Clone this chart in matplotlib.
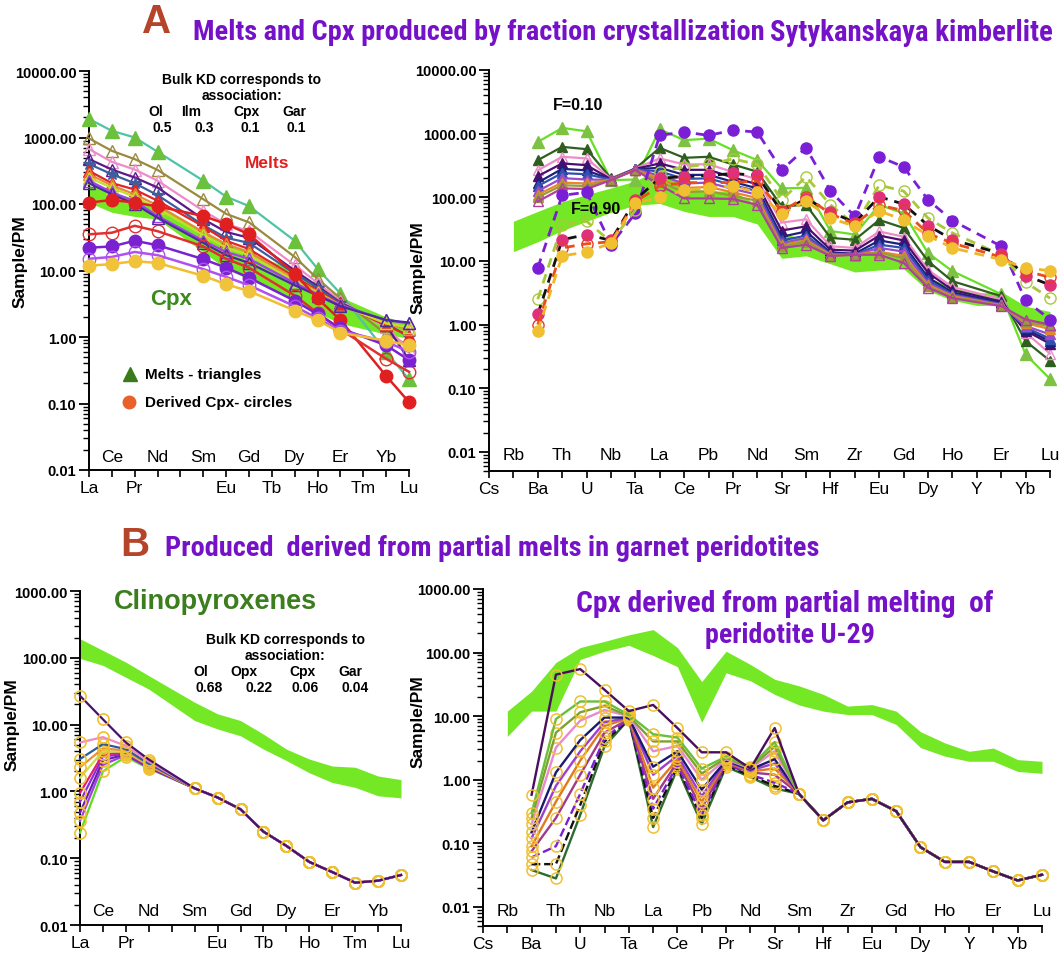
import numpy as np
import matplotlib
matplotlib.use('Agg')
import matplotlib.pyplot as plt
import matplotlib.transforms as mtransforms
from matplotlib import font_manager as fm
from matplotlib.lines import Line2D

W, H = 1062, 954
SANS = ['Liberation Sans', 'DejaVu Sans']
plt.rcParams['font.family'] = SANS

LIME = '#74E824'
TITLE_PURPLE = '#7512C8'
BROWN = '#B4442A'

# element orders
ree_all = ['La', 'Ce', 'Pr', 'Nd', 'Pm', 'Sm', 'Eu', 'Gd', 'Tb', 'Dy', 'Ho', 'Er', 'Tm', 'Yb', 'Lu']
ree_low = ['La', 'Pr', 'Eu', 'Tb', 'Ho', 'Tm', 'Lu']
ree_up = ['Ce', 'Nd', 'Sm', 'Gd', 'Dy', 'Er', 'Yb']
spider = ['Cs', 'Rb', 'Ba', 'Th', 'U', 'Nb', 'Ta', 'La', 'Ce', 'Pb', 'Pr', 'Nd',
          'Sr', 'Sm', 'Hf', 'Zr', 'Eu', 'Gd', 'Dy', 'Ho', 'Y', 'Er', 'Yb', 'Lu']
spider_low = ['Cs', 'Ba', 'U', 'Ta', 'Ce', 'Pr', 'Sr', 'Hf', 'Eu', 'Dy', 'Y', 'Yb']
spider_up = ['Rb', 'Th', 'Nb', 'La', 'Pb', 'Nd', 'Sm', 'Zr', 'Gd', 'Ho', 'Er', 'Lu']

# ---------------- A, left: REE of melts and cpx ----------------
ree_a = ['La', 'Ce', 'Pr', 'Nd', 'Sm', 'Eu', 'Gd', 'Dy', 'Ho', 'Er', 'Yb', 'Lu']
melt_a1 = [1900, 1260, 1000, 610, 224, 129, 93, 28, 10.6, 4.5, 0.6, 0.23]
melt_a2 = [970, 630, 473, 325, 118, 71, 53, 16, 7.5, 3.8, 1.1, 0.75]
melt_a3 = [670, 430, 330, 224, 79, 50, 39, 12, 6.5, 3.5, 1.4, 0.65]
melt_a4 = [473, 330, 250, 177, 59, 38, 31, 10, 5.8, 3.3, 1.5, 0.45]
melt_a5 = [400, 280, 205, 136, 48, 31, 26, 9, 5.5, 3.2, 1.6, 1.0]
melt_a6 = [315, 206, 165, 112, 46, 28, 21, 8, 5.0, 3.1, 1.5, 1.05]
melt_a7 = [280, 190, 140, 95, 38, 25, 19, 7.5, 4.8, 3.0, 1.6, 1.3]
melt_a8 = [250, 175, 128, 86, 34, 22, 17, 7, 4.6, 3.0, 1.6, 1.4]
melt_a9 = [224, 150, 110, 66, 28, 19, 15, 6.5, 4.4, 3.0, 1.8, 1.6]
melt_a10 = [205, 140, 100, 62, 26, 17, 13, 6, 4.2, 2.9, 1.8, 1.65]
cpx_a1 = [105, 115, 105, 92, 66, 50, 35, 9, 3.8, 1.8, 0.26, 0.105]
cpx_a2 = [35, 37, 47, 39, 23, 15, 11, 4.2, 2.3, 1.3, 0.47, 0.3]
cpx_a3 = [22, 23, 28, 24, 14.8, 11, 7.8, 3.5, 2.2, 1.35, 0.75, 0.45]
cpx_a4 = [15, 16, 19, 17, 10.5, 8, 6, 2.9, 1.9, 1.25, 0.85, 0.6]
cpx_a5 = [11.8, 12.5, 13.8, 13, 8.3, 6.2, 4.9, 2.5, 1.8, 1.16, 0.88, 0.75]
band_a_hi = [190, 150, 120, 93, 38, 26, 19, 10, 6, 4, 2.0, 1.6]
band_a_lo = [105, 75, 65, 59, 19, 10.5, 7.4, 3.5, 2.3, 1.6, 1.1, 0.95]

# ---------------- A, right: spider diagram ----------------
spd_a = ['Ba', 'Th', 'U', 'Nb', 'Ta', 'La', 'Ce', 'Pb', 'Pr', 'Nd', 'Sr', 'Sm',
         'Hf', 'Zr', 'Eu', 'Gd', 'Dy', 'Ho', 'Er', 'Yb', 'Lu']
melt_s1 = [740, 1230, 1090, 186, 190, 1170, 790, 835, 550, 383, 138, 141, 29.5, 26, 76, 56, 13.3, 6.9, 3.0, 0.34, 0.14]
melt_s2 = [383, 620, 570, 198, 283, 597, 417, 433, 328, 252, 72, 76, 23, 21.5, 44, 33, 9.9, 4.8, 2.8, 0.55, 0.27]
melt_s3 = [265, 433, 408, 195, 283, 408, 328, 330, 250, 190, 40, 45, 17, 16, 29, 24, 7.2, 3.9, 2.5, 0.75, 0.35]
melt_s4 = [215, 340, 320, 192, 280, 340, 270, 270, 205, 160, 30, 35, 15, 14.5, 25, 21, 6.5, 3.5, 2.3, 0.8, 0.5]
melt_s5 = [170, 280, 265, 190, 278, 290, 225, 225, 175, 138, 24, 29, 13.5, 13, 21, 18, 5.5, 3.2, 2.2, 0.85, 0.55]
melt_s6 = [150, 240, 230, 190, 276, 255, 195, 198, 155, 125, 21, 25, 13, 12.5, 18, 16, 5.0, 3.0, 2.1, 0.9, 0.6]
melt_s7 = [125, 200, 190, 188, 274, 220, 165, 170, 135, 110, 19, 23, 12.5, 12.5, 16, 14, 4.5, 2.9, 2.05, 0.95, 0.7]
melt_s8 = [110, 170, 165, 188, 272, 195, 140, 145, 120, 97, 17.5, 21, 12.5, 12.5, 14, 12, 4.2, 2.8, 2.0, 1.05, 0.85]
melt_s9 = [100, 155, 150, 187, 270, 175, 120, 125, 105, 88, 17, 20, 12, 12.5, 13.5, 11, 4.0, 2.7, 2.0, 1.1, 0.95]
melt_s10 = [86, 138, 135, 186, 268, 155, 96, 96, 94, 76, 16, 18, 12, 12.5, 12.5, 9.3, 3.8, 2.6, 1.95, 1.2, 1.0]
cpx_s1 = [7.8, 107, 120, 18, 56, 940, 1060, 940, 1130, 1060, 268, 600, 125, 50, 433, 300, 91, 43, 17, 2.4, 1.2]
cpx_s2 = [2.5, 37, 42, 20, 63, 250, 300, 330, 400, 330, 91, 210, 76, 37, 155, 125, 47, 27.5, 12.5, 4.6, 2.6]
cpx_s3 = [1.45, 21.5, 26, 21, 91, 200, 210, 220, 237, 220, 59, 95, 59, 40, 102, 78, 36, 21.5, 13, 5.9, 4.2]
cpx_s4 = [1.0, 16, 18.6, 20, 85, 150, 170, 170, 170, 180, 60, 102, 55, 38, 75, 62, 27, 19, 11.5, 7.0, 5.5]
cpx_s5 = [0.8, 12, 13.8, 19, 80, 100, 130, 140, 150, 120, 55, 87, 47, 35, 61, 44, 25, 16, 10.5, 7.8, 7.0]
band_s = spider[1:]
band_s_hi = [42, 60, 85, 110, 140, 180, 280, 140, 125, 126, 76, 27, 22, 15, 13, 13, 11.5, 5.5, 3.8, 3.1, 3.3, 1.95, 1.6]
band_s_lo = [14, 20, 30, 42, 58, 75, 80, 60, 50, 50, 38, 11, 12, 9, 6.7, 7.2, 7.5, 3.4, 2.4, 2.0, 2.0, 1.1, 0.9]

# ---------------- B, left: REE of clinopyroxenes ----------------
ree_b = ['La', 'Ce', 'Pr', 'Nd', 'Sm', 'Eu', 'Gd', 'Tb', 'Dy', 'Ho', 'Er', 'Tm', 'Yb', 'Lu']
ree_b_tail = [1.11, 0.81, 0.54, 0.25, 0.153, 0.088, 0.062, 0.043, 0.046, 0.056]
cpx_b1 = [27, 12, 5.4, 3.0]
cpx_b2 = [5.4, 6.5, 4.8, 2.8]
cpx_b3 = [3.05, 5.1, 4.3, 2.6]
cpx_b4 = [2.3, 4.4, 4.1, 2.5]
cpx_b5 = [1.6, 4.0, 3.9, 2.45]
cpx_b6 = [0.95, 3.6, 3.8, 2.4]
cpx_b7 = [0.7, 3.3, 3.7, 2.35]
cpx_b8 = [0.48, 2.9, 3.6, 2.3]
cpx_b9 = [0.36, 2.5, 3.5, 2.25]
cpx_b10 = [0.24, 2.0, 3.3, 2.2]
band_b_hi = [193, 129, 86, 54, 21.6, 14.5, 11.5, 7.2, 4.3, 3.05, 2.4, 2.3, 1.7, 1.5]
band_b_lo = [98, 77, 51, 34, 11.5, 8.6, 6.8, 4.3, 2.9, 1.9, 1.36, 1.15, 0.86, 0.8]

# ---------------- B, right: spider diagram of U-29 cpx ----------------
spd_b = ['Ba', 'Th', 'U', 'Nb', 'Ta', 'La', 'Ce', 'Pb', 'Pr', 'Nd', 'Sr', 'Sm',
         'Hf', 'Zr', 'Eu', 'Gd', 'Dy', 'Ho', 'Y', 'Er', 'Yb', 'Lu']
spd_b_tail = [0.6, 0.23, 0.44, 0.5, 0.32, 0.087, 0.051, 0.051, 0.036, 0.026, 0.032]
u29_1 = [0.58, 45, 55, 26, 12, 15, 6.5, 2.7, 2.7, 1.5, 6.5]
u29_2 = [0.3, 9, 17, 17, 10.5, 5.2, 4.6, 1.5, 2.3, 1.6, 3.9]
u29_3 = [0.25, 5.5, 11.5, 14.5, 10, 4.0, 4.0, 1.25, 2.2, 1.55, 3.3]
u29_4 = [0.2, 3.2, 8.5, 12.5, 10, 2.8, 3.4, 1.0, 2.1, 1.5, 2.8]
u29_5 = [0.15, 1.3, 4.2, 9.5, 9.5, 1.6, 2.8, 0.7, 2.0, 1.45, 2.1]
u29_6 = [0.12, 0.8, 2.8, 8, 9.5, 1.2, 2.4, 0.55, 1.95, 1.4, 1.8]
u29_7 = [0.09, 0.45, 2.0, 7, 9.3, 0.75, 2.1, 0.45, 1.9, 1.35, 1.5]
u29_8 = [0.075, 0.25, 1.2, 5.5, 9, 0.5, 1.9, 0.35, 1.85, 1.3, 1.2]
u29_9 = [0.06, 0.09, 0.6, 4.5, 9.0, 0.35, 1.7, 0.28, 1.8, 1.2, 0.9]
u29_10 = [0.047, 0.047, 0.4, 4.0, 8.8, 0.25, 1.6, 0.25, 1.7, 1.15, 0.8]
u29_11 = [0.038, 0.028, 0.28, 3.35, 8.9, 0.18, 1.5, 0.2, 1.6, 1.1, 0.73]
band_u_hi = [12, 24.7, 70, 120, 150, 190, 230, 120, 35, 105, 65, 38, 30, 22, 14.4, 15.2, 12, 5.7, 3.8, 2.8, 3.15, 2.07, 1.95]
band_u_lo = [4.8, 12, 12, 78, 105, 130, 90, 60, 8, 48, 36, 22, 15, 12, 10.6, 10.6, 7.4, 3.2, 2.35, 1.95, 1.95, 1.35, 1.26]

decades_a = [0.01, 0.1, 1, 10, 100, 1000, 10000]
decades_b = [0.01, 0.1, 1, 10, 100, 1000]


def narrow_font():
    # a condensed bold face for the headings, if one is installed
    for fam in ['Liberation Sans Narrow', 'Roboto Condensed', 'Open Sans Condensed', 'Arial Narrow']:
        try:
            fm.findfont(fm.FontProperties(family=fam, weight='bold'), fallback_to_default=False)
            return dict(family=fam)
        except ValueError:
            pass
    for fam in ['DejaVu Sans', 'Noto Sans', 'Open Sans']:
        path = fm.findfont(fm.FontProperties(family=fam, stretch='condensed', weight='bold'))
        if 'ondensed' in path:
            return dict(family=fam, fontstretch='condensed')
    return dict(family='Liberation Sans')


NARROW = narrow_font()


def rect(l, t, r, b):
    return [l / W, 1 - b / H, (r - l) / W, (b - t) / H]


def fx(x):
    return x / W


def fy(y):
    return 1 - y / H


def setup(ax, elems, low, up, ymin, ymax, decades, up_y):
    n = len(elems)
    ax.set_yscale('log')
    ax.set_xlim(0, n - 1)
    ax.set_ylim(ymin, ymax)
    for s in ['top', 'right']:
        ax.spines[s].set_visible(False)
    for s in ['left', 'bottom']:
        ax.spines[s].set_linewidth(1.4)
    ax.set_yticks(decades)
    ax.set_yticklabels(['%.2f' % d for d in decades], fontweight='bold', fontsize=10.5)
    ax.yaxis.set_minor_locator(matplotlib.ticker.LogLocator(base=10, subs=np.arange(2, 10), numticks=20))
    ax.yaxis.set_minor_formatter(matplotlib.ticker.NullFormatter())
    ax.tick_params(axis='y', which='major', length=7, width=1.3, pad=2)
    ax.tick_params(axis='y', which='minor', length=4, width=1.0)
    ax.set_xticks(range(n))
    ax.set_xticklabels([e if e in low else '' for e in elems], fontsize=12.5)
    ax.tick_params(axis='x', length=5, width=1.2, pad=2)
    trans = mtransforms.blended_transform_factory(ax.transData, ax.transAxes)
    for i, e in enumerate(elems):
        if e in up:
            ax.text(i, up_y, e, transform=trans, ha='center', va='center', fontsize=12.5)


fig = plt.figure(figsize=(W / 100, H / 100), dpi=100)
renderer = fig.canvas.get_renderer()


def heading(x, y, s, width, size, ha='left', color=TITLE_PURPLE):
    # size the heading so that it spans the given width in pixels
    t = fig.text(fx(x), fy(y), s, color=color, fontsize=size, fontweight='bold',
                 ha=ha, va='center', **NARROW)
    w = t.get_window_extent(renderer).width
    t.set_fontsize(size * width / w)
    return t


# ---- A left ----
ax1 = fig.add_axes(rect(89, 72, 409, 471))
setup(ax1, ree_all, ree_low, ree_up, 0.01, 10000, decades_a, 0.033)
xa = [ree_all.index(e) for e in ree_a]
ax1.fill_between(xa, band_a_lo, band_a_hi, color=LIME, lw=0, zorder=1)
melts_a = [
    (melt_a1, '#4FC3A6', '^', '#6CC13C', '#6CC13C', 9.5),
    (melt_a2, '#9A8A40', '^', 'none', '#9A8A40', 8),
    (melt_a3, '#EE8CC8', '^', 'none', '#EE8CC8', 8),
    (melt_a4, '#5A1A8A', '^', 'none', '#5A1A8A', 8),
    (melt_a5, '#3D5E9E', '*', '#3D5E9E', '#3D5E9E', 9),
    (melt_a6, '#E02525', '^', '#E02525', '#E02525', 9),
    (melt_a7, '#E8883A', '^', 'none', '#E8883A', 8),
    (melt_a8, '#C2E02A', '^', 'none', '#C2E02A', 8),
    (melt_a9, '#A040F0', '^', 'none', '#A040F0', 8),
    (melt_a10, '#4B2B9B', '^', 'none', '#4B2B9B', 8),
]
for vals, lc, mk, mf, me, ms in melts_a:
    ax1.plot(xa, vals, color=lc, lw=1.6, marker=mk, mfc=mf, mec=me, ms=ms, clip_on=False, zorder=3)
cpx_a = [
    (cpx_a1, '#E02020', '#E02020', '#E02020'),
    (cpx_a2, '#E03030', 'none', '#E03030'),
    (cpx_a3, '#7A22D0', '#7A22D0', '#7A22D0'),
    (cpx_a4, '#B050F0', 'none', '#B050F0'),
    (cpx_a5, '#F0BE2E', '#F0C33A', '#F0C33A'),
]
for vals, lc, mf, me in cpx_a:
    ax1.plot(xa, vals, color=lc, lw=1.8, marker='o', mfc=mf, mec=me, ms=9, clip_on=False, zorder=3)

# ---- A right ----
ax2 = fig.add_axes(rect(489, 71, 1050, 472))
setup(ax2, spider, spider_low, spider_up, 0.005, 10000, decades_a, 0.042)
xs = [spider.index(e) for e in spd_a]
xb = [spider.index(e) for e in band_s]
ax2.fill_between(xb, band_s_lo, band_s_hi, color=LIME, lw=0, zorder=1)
melts_s = [
    (melt_s1, '#66E022', '#7DC242', 9),
    (melt_s2, '#2F5F1F', '#2F5F1F', 7),
    (melt_s3, '#EE8CC8', 'none', 7),
    (melt_s4, '#4A0E6E', '#4A0E6E', 7),
    (melt_s5, '#1F1F80', '#1F1F80', 7),
    (melt_s6, '#3050B0', '#3050B0', 7),
    (melt_s7, '#9A4ACA', '#9A4ACA', 7),
    (melt_s8, '#E8882A', '#E8882A', 7),
    (melt_s9, '#9A9A3A', '#9A9A3A', 7),
    (melt_s10, '#B0409A', 'none', 7),
]
for vals, lc, mf, ms in melts_s:
    me = lc if mf == 'none' else mf
    ax2.plot(xs, vals, color=lc, lw=1.6, marker='^', mfc=mf, mec=me, ms=ms, clip_on=False, zorder=3)
cpx_s = [
    (cpx_s1, '#7B1FD6', '#7B1FD6', '#7B1FD6'),
    (cpx_s2, '#A8C83A', 'none', '#A8C83A'),
    (cpx_s3, '#111111', '#E0307A', '#E0307A'),
    (cpx_s4, '#E8501A', 'none', '#E83A2A'),
    (cpx_s5, '#F0B42A', '#F0C030', '#F0C030'),
]
for vals, lc, mf, me in cpx_s:
    ax2.plot(xs, vals, color=lc, lw=2.0, ls=(0, (3.5, 2.5)), marker='o', mfc=mf, mec=me,
             ms=8, clip_on=False, zorder=4)

# ---- B left ----
ax3 = fig.add_axes(rect(80, 592, 401, 926))
setup(ax3, ree_all, ree_low, ree_up, 0.01, 1000, decades_b, 0.042)
xr = [ree_all.index(e) for e in ree_b]
ax3.fill_between(xr, band_b_lo, band_b_hi, color=LIME, lw=0, zorder=1)
cpx_b = [
    (cpx_b10, '#5EDC1F'), (cpx_b9, '#A040E0'), (cpx_b8, '#6A1FB0'), (cpx_b7, '#8B2BE2'),
    (cpx_b6, '#E0206E'), (cpx_b5, '#C8E040'), (cpx_b4, '#E8903A'), (cpx_b3, '#2E5A9E'),
    (cpx_b2, '#F08AC0'), (cpx_b1, '#4A1070'),
]
for head, lc in cpx_b:
    ax3.plot(xr, head + ree_b_tail, color=lc, lw=1.6, marker='o', mfc='none', mec='#F0C030',
             mew=1.2, ms=8, clip_on=False, zorder=3)

# ---- B right ----
ax4 = fig.add_axes(rect(483, 590, 1042, 927))
setup(ax4, spider, spider_low, spider_up, 0.005, 1000, decades_b, 0.045)
xu = [spider.index(e) for e in spd_b]
ax4.fill_between(xb, band_u_lo, band_u_hi, color=LIME, lw=0, zorder=1)
u29 = [
    (u29_11, '#2E6B2E', '-'), (u29_10, '#111111', '--'), (u29_9, '#7B1FD6', '--'),
    (u29_8, '#A03A8A', '-'), (u29_7, '#E07A20', '-'), (u29_6, '#9B3FD0', '-'),
    (u29_5, '#1A1A6E', '-'), (u29_4, '#E88ACF', '-'), (u29_3, '#7FA030', '-'),
    (u29_2, '#6ABF3A', '-'), (u29_1, '#4A0E5E', '-'),
]
for head, lc, ls in u29:
    ax4.plot(xu, head + spd_b_tail, color=lc, lw=1.7, ls=ls, marker='o', mfc='none',
             mec='#F0C030', mew=1.1, ms=8, clip_on=False, zorder=3)

# ---- titles and annotations ----
fig.text(fx(157), fy(22), 'A', color=BROWN, fontsize=29, fontweight='bold', ha='center', va='center')
heading(193, 32, 'Melts and Cpx produced by fraction crystallization', 572, 19)
heading(770, 33, 'Sytykanskaya kimberlite', 282, 19)
fig.text(fx(135), fy(545), 'B', color=BROWN, fontsize=29, fontweight='bold', ha='center', va='center')
heading(165, 549, 'Produced  derived from partial melts in garnet peridotites', 655, 19)
fig.text(fx(215), fy(602), 'Clinopyroxenes', color='#3C7D1E', fontsize=19.5, fontweight='bold',
         ha='center', va='center')
heading(785, 604, 'Cpx derived from partial melting  of', 418, 19, ha='center')
heading(790, 636, 'peridotite U-29', 170, 19, ha='center')

kd = dict(fontsize=10, fontweight='bold', ha='center', va='center')
fig.text(fx(242), fy(80), 'Bulk KD corresponds to', **kd)
fig.text(fx(242), fy(96), 'association:', **kd)
for x, t in zip([156, 191, 246, 294], ['Ol', 'Ilm', 'Cpx', 'Gar']):
    fig.text(fx(x), fy(112), t, **kd)
for x, t in zip([162, 204, 250, 296], ['0.5', '0.3', '0.1', '0.1']):
    fig.text(fx(x), fy(128), t, **kd)
fig.text(fx(285), fy(640), 'Bulk KD corresponds to', **kd)
fig.text(fx(285), fy(656), 'association:', **kd)
for x, t in zip([201, 244, 302, 350], ['Ol', 'Opx', 'Cpx', 'Gar']):
    fig.text(fx(x), fy(672), t, **kd)
for x, t in zip([209, 259, 305, 355], ['0.68', '0.22', '0.06', '0.04']):
    fig.text(fx(x), fy(688), t, **kd)

fig.text(fx(267), fy(163), 'Melts', color='#E02020', fontsize=12.5, fontweight='bold', ha='center', va='center')
fig.text(fx(171), fy(300), 'Cpx', color='#3C8A1E', fontsize=16, fontweight='bold', ha='center', va='center')
fig.text(fx(578), fy(106), 'F=0.10', fontsize=11.5, fontweight='bold', ha='center', va='center')
fig.text(fx(596), fy(209), 'F=0.90', fontsize=11.5, fontweight='bold', ha='center', va='center')

# legend of marker shapes
fig.add_artist(Line2D([fx(130)], [fy(375)], marker='^', color='#3A7A1A', ms=10, transform=fig.transFigure))
fig.add_artist(Line2D([fx(129)], [fy(403)], marker='o', color='#E8602A', ms=9, transform=fig.transFigure))
fig.text(fx(145), fy(375), 'Melts - triangles', fontsize=11, fontweight='bold', ha='left', va='center')
fig.text(fx(145), fy(403), 'Derived Cpx- circles', fontsize=11, fontweight='bold', ha='left', va='center')

for x, y in [(20, 262), (418, 268), (12, 725), (418, 722)]:
    fig.text(fx(x), fy(y), 'Sample/PM', rotation=90, fontsize=12.5, fontweight='bold', ha='center', va='center')

fig.savefig('out.png', dpi=100)
